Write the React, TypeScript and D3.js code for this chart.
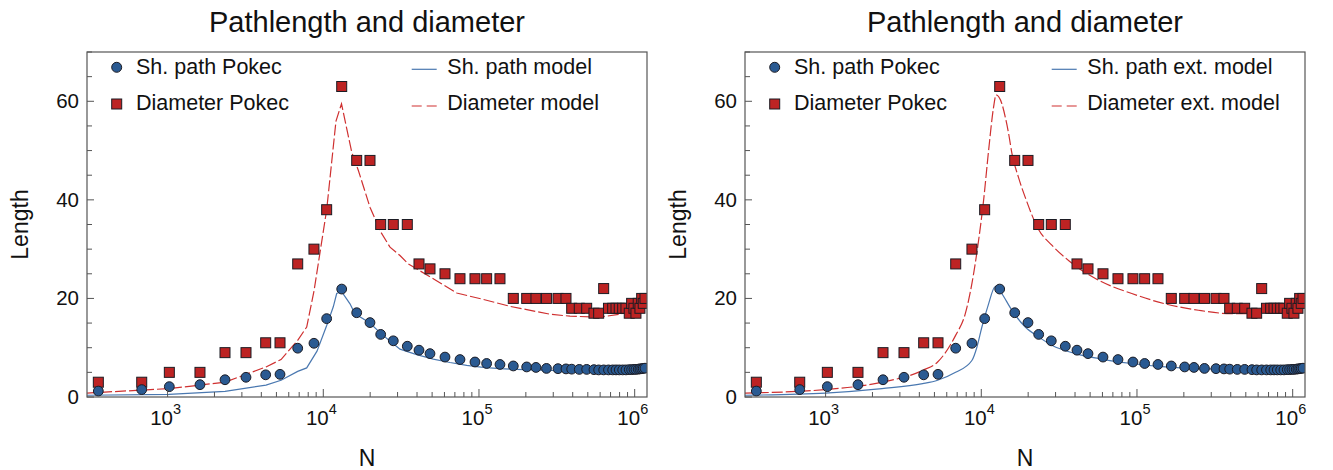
import React from 'react';
import * as d3 from 'd3';

// ---------- data ----------
const sizesN = [359, 682, 1026, 1614, 2337, 3188, 4266, 5272, 6850, 8710, 10510, 13130, 16390, 19950, 23370, 28160, 34640, 41180, 48450, 60480, 75500, 94250, 112000, 136400, 166100, 202500, 232300, 271300, 321700, 362100, 393900, 440800, 491700, 547700, 587000, 632300, 678800, 722300, 758700, 796200, 837500, 879000, 923000, 956000, 989000, 1019000, 1054000, 1081000, 1109000, 1135000, 1165000];
const shPathPokec = [1.2, 1.5, 2.1, 2.5, 3.5, 4.0, 4.5, 4.6, 9.9, 10.9, 15.9, 21.9, 17.1, 15.1, 12.7, 11.4, 10.3, 9.5, 8.8, 8.1, 7.6, 7.1, 6.8, 6.6, 6.3, 6.1, 6.0, 5.8, 5.75, 5.7, 5.65, 5.6, 5.6, 5.55, 5.5, 5.5, 5.5, 5.5, 5.5, 5.5, 5.5, 5.5, 5.55, 5.55, 5.6, 5.6, 5.65, 5.7, 5.75, 5.8, 5.85];
const diameterPokec = [3, 3, 5, 5, 9, 9, 11, 11, 27, 30, 38, 63, 48, 48, 35, 35, 35, 27, 26, 25, 24, 24, 24, 24, 20, 20, 20, 20, 20, 20, 18, 18, 18, 17, 17, 22, 18, 18, 18, 18, 18, 18, 17, 19, 18, 17, 19, 18, 20, 19, 20];

// left panel: model
const modelShN = [304, 1021, 2337, 4285, 5354, 6848, 7824, 9110, 10515, 11594, 12192, 13091, 14844, 15978, 19949, 23372, 28157, 31088, 39805, 50868, 65131, 83367, 106560, 136420, 174660, 285760, 598650, 1199500];
const modelShVal = [0.35, 0.55, 1.15, 2.4, 3.4, 5.2, 5.9, 9.3, 14.5, 18.3, 21.0, 21.4, 18.9, 16.9, 15.0, 12.9, 10.8, 9.7, 8.6, 7.7, 7.0, 6.4, 6.0, 5.75, 5.6, 5.4, 5.35, 5.75];
const modelDiamN = [304, 1021, 2337, 4285, 5354, 6848, 7824, 8717, 10515, 12066, 13091, 15221, 16780, 19949, 23372, 26820, 31088, 35150, 50868, 71930, 106560, 158100, 285760, 384200, 598650, 804600, 1004700, 1199500];
const modelDiamVal = [0.8, 1.7, 3.0, 6.1, 7.6, 11.5, 14.2, 21.5, 38, 56, 59.5, 49.7, 46, 38.5, 33.5, 30.4, 28.7, 27, 24, 21.1, 19.8, 18.4, 16.8, 16.4, 16.2, 16.8, 17.6, 18.5];

// right panel: extended model
const extShN = [298, 997, 2301, 4200, 5242, 6839, 8702, 9371, 10090, 11140, 12170, 12600, 13560, 15720, 19160, 23320, 28390, 40120, 56610, 92600, 151700, 248100, 665000, 1171500];
const extShVal = [0.35, 0.8, 1.7, 2.7, 3.4, 5.0, 7.4, 10.1, 14.2, 18.9, 22.3, 22.5, 21.0, 17.6, 14.2, 12.2, 10.5, 8.8, 7.8, 6.8, 6.1, 5.75, 5.55, 5.9];
const extDiamN = [298, 997, 2301, 4200, 5242, 6839, 7894, 8702, 9610, 10346, 11140, 11992, 12446, 13560, 14256, 14970, 15720, 17355, 19160, 23320, 28390, 36340, 56610, 92600, 151700, 248100, 406000, 545600, 665000, 893700, 1171500];
const extDiamVal = [0.8, 1.5, 3.0, 5.4, 7.1, 12.5, 16.9, 23, 31.8, 39.9, 50, 58.8, 61.3, 59.5, 56.8, 53.5, 49.5, 44.5, 40.5, 34, 30.8, 27.7, 23.7, 21, 18.9, 17.6, 16.9, 16.9, 17.2, 17.9, 18.6];

const yTickValues = [0, 20, 40, 60];
const yMinorStep = 5;
const xDecades = [3, 4, 5, 6];
const xDomain = [303.6, 1.2e6];
const yDomain = [0, 70];

const titleText = 'Pathlength and diameter';
const legendLeft = ['Sh. path Pokec', 'Diameter Pokec'];
const legendRightA = ['Sh. path model', 'Diameter model'];
const legendRightB = ['Sh. path ext. model', 'Diameter ext. model'];

// ---------- style ----------
const W = 1333;
const H = 470;
const FONT = '"Liberation Sans", Arial, Helvetica, sans-serif';
const BLUE_FILL = '#2a5a92';
const BLUE_LINE = '#4a78b0';
const RED_FILL = '#bd2323';
const RED_LINE = '#cf3030';
const MARK_STROKE = '#1c1c24';
const FRAME = '#555';

type PanelProps = {
  left: number;
  shN: number[];
  shV: number[];
  dN: number[];
  dV: number[];
  smooth: boolean;
  modelLabels: string[];
  modelLegendX: number;
};

function Panel({ left, shN, shV, dN, dV, smooth, modelLabels, modelLegendX }: PanelProps) {
  const pw = 560;
  const top = 52;
  const bottom = 397;
  const right = left + pw;
  const x = d3.scaleLog().domain(xDomain).range([left, right]);
  const y = d3.scaleLinear().domain(yDomain).range([bottom, top]);

  const line = d3
    .line<[number, number]>()
    .x((d) => x(d[0]))
    .y((d) => y(d[1]))
    .curve(smooth ? d3.curveMonotoneX : d3.curveLinear);

  const shPts: [number, number][] = shN.map((n, i) => [n, shV[i]]);
  const dPts: [number, number][] = dN.map((n, i) => [n, dV[i]]);

  const yMinor = d3.range(yDomain[0], yDomain[1] + 0.001, yMinorStep);
  const xMinor: number[] = [];
  [3, 4, 5].forEach((d) => {
    for (let k = 2; k <= 9; k++) xMinor.push(k * Math.pow(10, d));
  });

  const sq = 10;
  const cx = (left + right) / 2;

  return (
    <g>
      <defs>
        <clipPath id={`clip${left}`}>
          <rect x={left} y={top} width={pw} height={bottom - top} />
        </clipPath>
      </defs>
      <text x={cx} y={32} textAnchor="middle" fontSize={29} fontFamily={FONT} fill="#111">
        {titleText}
      </text>

      <g clipPath={`url(#clip${left})`}>
        <path d={line(shPts) || ''} fill="none" stroke={BLUE_LINE} strokeWidth={1.2} />
        <path d={line(dPts) || ''} fill="none" stroke={RED_LINE} strokeWidth={1.2} strokeDasharray="11,3" />
        {sizesN.map((n, i) => (
          <rect
            key={'s' + i}
            x={x(n) - sq / 2}
            y={y(diameterPokec[i]) - sq / 2}
            width={sq}
            height={sq}
            fill={RED_FILL}
            stroke={MARK_STROKE}
            strokeWidth={1}
          />
        ))}
        {sizesN.map((n, i) => (
          <circle
            key={'c' + i}
            cx={x(n)}
            cy={y(shPathPokec[i])}
            r={4.9}
            fill={BLUE_FILL}
            stroke={MARK_STROKE}
            strokeWidth={1}
          />
        ))}
      </g>

      {/* frame */}
      <rect x={left} y={top} width={pw} height={bottom - top} fill="none" stroke={FRAME} strokeWidth={1.2} />

      {/* y ticks */}
      {yMinor.map((v) => (
        <line
          key={'yt' + v}
          x1={left}
          x2={left + (v % 20 === 0 ? 7 : 5)}
          y1={y(v)}
          y2={y(v)}
          stroke={FRAME}
          strokeWidth={1}
        />
      ))}
      {yTickValues.map((v) => (
        <text key={'yl' + v} x={left - 8} y={y(v) + 7} textAnchor="end" fontSize={20.5} fontFamily={FONT} fill="#111">
          {v}
        </text>
      ))}

      {/* x ticks */}
      {xMinor.map((v) => (
        <line key={'xm' + v} x1={x(v)} x2={x(v)} y1={bottom} y2={bottom - 5} stroke={FRAME} strokeWidth={1} />
      ))}
      {xDecades.map((d) => (
        <g key={'xd' + d}>
          <line x1={x(Math.pow(10, d))} x2={x(Math.pow(10, d))} y1={bottom} y2={bottom - 8} stroke={FRAME} strokeWidth={1} />
          <text x={x(Math.pow(10, d)) - 6} y={425} textAnchor="middle" fontSize={20.5} fontFamily={FONT} fill="#111">
            10
          </text>
          <text x={x(Math.pow(10, d)) + 5.5} y={414} textAnchor="start" fontSize={14.5} fontFamily={FONT} fill="#111">
            {d}
          </text>
        </g>
      ))}

      {/* axis titles */}
      <text x={cx} y={466} textAnchor="middle" fontSize={23} fontFamily={FONT} fill="#111">
        N
      </text>
      <text
        transform={`translate(${left - 59},${(top + bottom) / 2}) rotate(-90)`}
        textAnchor="middle"
        fontSize={23}
        fontFamily={FONT}
        fill="#111"
      >
        Length
      </text>

      {/* legend left */}
      <circle cx={left + 29.7} cy={67.3} r={5} fill={BLUE_FILL} stroke={MARK_STROKE} strokeWidth={1} />
      <text x={left + 49} y={73.5} fontSize={21.5} fontFamily={FONT} fill="#111">
        {legendLeft[0]}
      </text>
      <rect x={left + 29.7 - 5} y={104 - 5} width={10} height={10} fill={RED_FILL} stroke={MARK_STROKE} strokeWidth={1} />
      <text x={left + 49} y={110} fontSize={21.5} fontFamily={FONT} fill="#111">
        {legendLeft[1]}
      </text>

      {/* legend right */}
      <line x1={modelLegendX} x2={modelLegendX + 25} y1={69.3} y2={69.3} stroke={BLUE_LINE} strokeWidth={1.2} />
      <text x={modelLegendX + 35.6} y={73.5} fontSize={21.5} fontFamily={FONT} fill="#111">
        {modelLabels[0]}
      </text>
      <line x1={modelLegendX} x2={modelLegendX + 25} y1={106} y2={106} stroke={RED_LINE} strokeWidth={1.2} strokeDasharray="10,5" />
      <text x={modelLegendX + 35.6} y={110} fontSize={21.5} fontFamily={FONT} fill="#111">
        {modelLabels[1]}
      </text>
    </g>
  );
}

export default function App() {
  return (
    <svg
      width={W}
      height={H}
      viewBox={`0 0 ${W} ${H}`}
      style={{ position: 'absolute', left: 0, top: 0, background: '#fff' }}
    >
      <rect x={0} y={0} width={W} height={H} fill="#fff" />
      <Panel
        left={87}
        shN={modelShN}
        shV={modelShVal}
        dN={modelDiamN}
        dV={modelDiamVal}
        smooth={false}
        modelLabels={legendRightA}
        modelLegendX={411.7}
      />
      <Panel
        left={745}
        shN={extShN}
        shV={extShVal}
        dN={extDiamN}
        dV={extDiamVal}
        smooth={true}
        modelLabels={legendRightB}
        modelLegendX={1051.7}
      />
    </svg>
  );
}
